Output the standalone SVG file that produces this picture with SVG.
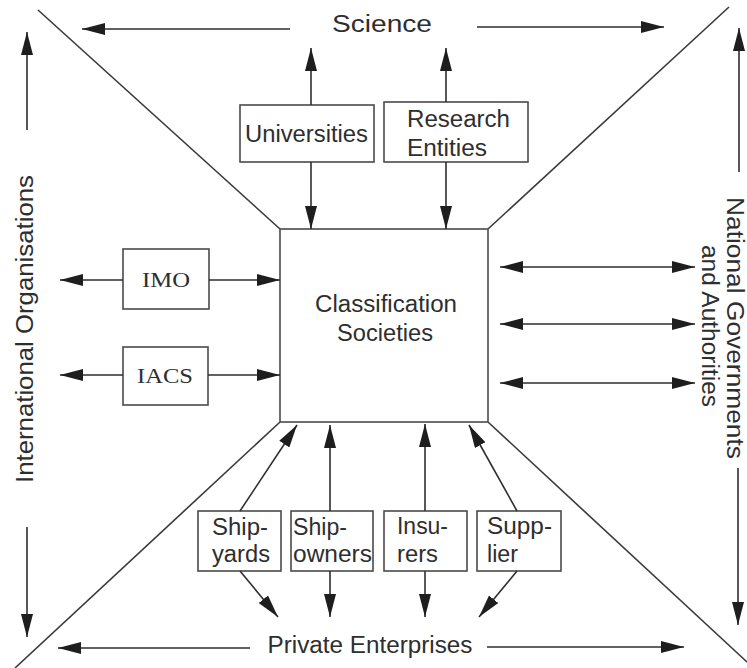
<svg xmlns="http://www.w3.org/2000/svg" width="747" height="668" viewBox="0 0 747 668">
  <style>
    .frame { stroke: #3a3a3a; stroke-width: 1.6; fill: none; }
    .box { fill: #ffffff; stroke: #4a4a4a; stroke-width: 1.6; }
    .link { stroke: #2e2e2e; stroke-width: 1.6; fill: none; marker-end: url(#head); }
    .both { marker-start: url(#headStart); }
    .lbl { font-family: "Liberation Sans", Arial, sans-serif; font-size: 23px; fill: #2e2e2e; }
    .serif { font-family: "Liberation Serif", "Times New Roman", serif; font-size: 22px; fill: #2e2e2e; }
  </style>
  <defs>
    <marker id="head" markerUnits="userSpaceOnUse" markerWidth="23" markerHeight="12" refX="23" refY="6" orient="auto">
      <path d="M0,0 L23,6 L0,12 Z" fill="#1e1e1e"/>
    </marker>
    <marker id="headStart" markerUnits="userSpaceOnUse" markerWidth="23" markerHeight="12" refX="23" refY="6" orient="auto-start-reverse">
      <path d="M0,0 L23,6 L0,12 Z" fill="#1e1e1e"/>
    </marker>
  </defs>

  <rect width="747" height="668" fill="#ffffff"/>

  <!-- corner diagonals splitting the four sectors -->
  <g id="sectors">
    <line class="frame" x1="38" y1="10" x2="280" y2="229"/>
    <line class="frame" x1="729" y1="7" x2="488" y2="229"/>
    <line class="frame" x1="15" y1="668" x2="280" y2="422"/>
    <line class="frame" x1="488" y1="422" x2="747" y2="662"/>
  </g>

  <!-- sector titles -->
  <g id="titles">
    <text class="lbl" x="382" y="32" text-anchor="middle" font-size="27" textLength="100" lengthAdjust="spacingAndGlyphs">Science</text>
    <text class="lbl" x="370" y="653" text-anchor="middle" textLength="205" lengthAdjust="spacingAndGlyphs">Private Enterprises</text>
    <text class="lbl" transform="translate(33,329) rotate(-90)" text-anchor="middle" textLength="308" lengthAdjust="spacingAndGlyphs">International Organisations</text>
    <text class="lbl" transform="translate(727,328) rotate(90)" text-anchor="middle" textLength="262" lengthAdjust="spacingAndGlyphs">National Governments</text>
    <text class="lbl" transform="translate(702,326) rotate(90)" text-anchor="middle" textLength="162" lengthAdjust="spacingAndGlyphs">and Authorities</text>
  </g>

  <!-- nodes -->
  <g id="classification-societies">
    <rect class="box" x="280" y="229" width="208" height="193"/>
    <text class="lbl" x="386" y="312" text-anchor="middle" textLength="142" lengthAdjust="spacingAndGlyphs">Classification</text>
    <text class="lbl" x="385" y="341" text-anchor="middle" textLength="96" lengthAdjust="spacingAndGlyphs">Societies</text>
  </g>
  <g id="universities">
    <rect class="box" x="240" y="105" width="134" height="57"/>
    <text class="lbl" x="245" y="142" textLength="123" lengthAdjust="spacingAndGlyphs">Universities</text>
  </g>
  <g id="research-entities">
    <rect class="box" x="384" y="102" width="144" height="60"/>
    <text class="lbl" x="407" y="127" textLength="103" lengthAdjust="spacingAndGlyphs">Research</text>
    <text class="lbl" x="407" y="156" textLength="80" lengthAdjust="spacingAndGlyphs">Entities</text>
  </g>
  <g id="imo">
    <rect class="box" x="123" y="249" width="86" height="60"/>
    <text class="serif" x="142" y="287" textLength="48" lengthAdjust="spacingAndGlyphs">IMO</text>
  </g>
  <g id="iacs">
    <rect class="box" x="123" y="347" width="85" height="58"/>
    <text class="serif" x="137" y="383" textLength="56" lengthAdjust="spacingAndGlyphs">IACS</text>
  </g>
  <g id="shipyards">
    <rect class="box" x="198" y="511" width="83" height="60"/>
    <text class="lbl" x="212" y="535" textLength="56" lengthAdjust="spacingAndGlyphs">Ship-</text>
    <text class="lbl" x="212" y="562" textLength="58" lengthAdjust="spacingAndGlyphs">yards</text>
  </g>
  <g id="shipowners">
    <rect class="box" x="291" y="511" width="82" height="60"/>
    <text class="lbl" x="293" y="535" textLength="54" lengthAdjust="spacingAndGlyphs">Ship-</text>
    <text class="lbl" x="293" y="562" textLength="79" lengthAdjust="spacingAndGlyphs">owners</text>
  </g>
  <g id="insurers">
    <rect class="box" x="384" y="511" width="83" height="60"/>
    <text class="lbl" x="397" y="534" textLength="51" lengthAdjust="spacingAndGlyphs">Insu-</text>
    <text class="lbl" x="397" y="562" textLength="41" lengthAdjust="spacingAndGlyphs">rers</text>
  </g>
  <g id="supplier">
    <rect class="box" x="477" y="511" width="84" height="60"/>
    <text class="lbl" x="487" y="534" textLength="65" lengthAdjust="spacingAndGlyphs">Supp-</text>
    <text class="lbl" x="487" y="562" textLength="31" lengthAdjust="spacingAndGlyphs">lier</text>
  </g>

  <!-- connectors -->
  <g id="connectors">
    <!-- sector axes -->
    <line class="link" x1="290" y1="29" x2="82" y2="29"/>
    <line class="link" x1="477" y1="27" x2="664" y2="27"/>
    <line class="link" x1="250" y1="648" x2="58" y2="648"/>
    <line class="link" x1="487" y1="647" x2="684" y2="647"/>
    <line class="link" x1="27" y1="130" x2="27" y2="32"/>
    <line class="link" x1="27" y1="527" x2="27" y2="637"/>
    <line class="link" x1="739" y1="172" x2="739" y2="28"/>
    <line class="link" x1="738" y1="468" x2="738" y2="625"/>

    <!-- science links -->
    <line class="link" x1="311" y1="105" x2="311" y2="48"/>
    <line class="link" x1="311" y1="162" x2="311" y2="229"/>
    <line class="link" x1="446" y1="102" x2="446" y2="48"/>
    <line class="link" x1="446" y1="162" x2="446" y2="229"/>

    <!-- international organisation links -->
    <line class="link" x1="123" y1="280" x2="60" y2="280"/>
    <line class="link" x1="209" y1="280" x2="280" y2="280"/>
    <line class="link" x1="123" y1="375" x2="60" y2="375"/>
    <line class="link" x1="208" y1="375" x2="280" y2="375"/>

    <!-- government links -->
    <line class="link both" x1="500" y1="267" x2="695" y2="267"/>
    <line class="link both" x1="500" y1="324" x2="695" y2="324"/>
    <line class="link both" x1="500" y1="383" x2="695" y2="383"/>

    <!-- private enterprise links -->
    <line class="link" x1="240" y1="511" x2="297" y2="425"/>
    <line class="link" x1="240" y1="571" x2="278" y2="617"/>
    <line class="link" x1="330" y1="511" x2="330" y2="425"/>
    <line class="link" x1="330" y1="571" x2="330" y2="617"/>
    <line class="link" x1="425" y1="511" x2="425" y2="424"/>
    <line class="link" x1="425" y1="571" x2="425" y2="617"/>
    <line class="link" x1="517" y1="511" x2="469" y2="425"/>
    <line class="link" x1="517" y1="571" x2="479" y2="617"/>
  </g>
</svg>
